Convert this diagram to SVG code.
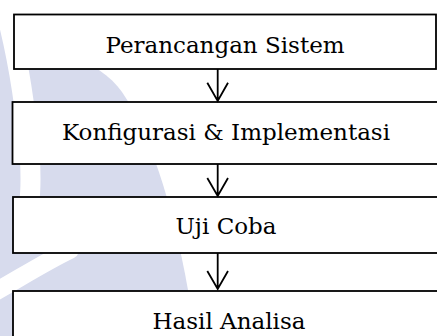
<svg xmlns="http://www.w3.org/2000/svg" width="437" height="336" viewBox="0 0 437 336">
  <defs>
    <style>
      .box { fill: #ffffff; stroke: #000000; stroke-width: 1.8; }
      .lbl { font-family: "DejaVu Serif", "Liberation Serif", serif; font-size: 23px; fill: #000000; text-anchor: middle; }
      .conn { fill: none; stroke: #000000; stroke-width: 1.8; stroke-linejoin: miter; }
      .wm { fill: #d7dbed; }
      .wmw { fill: none; stroke: #ffffff; stroke-linecap: round; }
    </style>
  </defs>
  <rect x="0" y="0" width="437" height="336" fill="#ffffff"/>
  <g id="watermark">
    <path class="wm" d="M0,28 C40,40 100,60 122,92 C148,130 172,200 188,290 L192,336 L0,336 Z"/>
    <path class="wmw" stroke-width="20" d="M8,20 C18,60 26,110 30,160 C32,200 28,215 22,228"/>
    <path class="wmw" stroke-width="18" d="M-5,292 C20,278 45,262 70,250"/>
  </g>
  <g id="node-perancangan">
    <rect class="box" x="14" y="14.5" width="422" height="54.5"/>
    <text class="lbl" x="225" y="53">Perancangan Sistem</text>
  </g>
  <g id="node-konfigurasi">
    <rect class="box" x="12.5" y="102" width="430" height="62"/>
    <text class="lbl" x="226" y="140">Konfigurasi &amp; Implementasi</text>
  </g>
  <g id="node-ujicoba">
    <rect class="box" x="13" y="197" width="430" height="56"/>
    <text class="lbl" x="226" y="234">Uji Coba</text>
  </g>
  <g id="node-hasil">
    <rect class="box" x="13" y="291" width="430" height="60"/>
    <text class="lbl" x="229" y="329">Hasil Analisa</text>
  </g>
  <g id="connectors">
    <path class="conn" d="M217.7,69 V100.5 M207.3,82.7 L217.7,101 L228,82.7"/>
    <path class="conn" d="M217.7,164 V195.5 M207.3,178 L217.7,196 L228,178"/>
    <path class="conn" d="M217.7,253 V288.5 M207.3,271 L217.7,289 L228,271"/>
  </g>
</svg>
